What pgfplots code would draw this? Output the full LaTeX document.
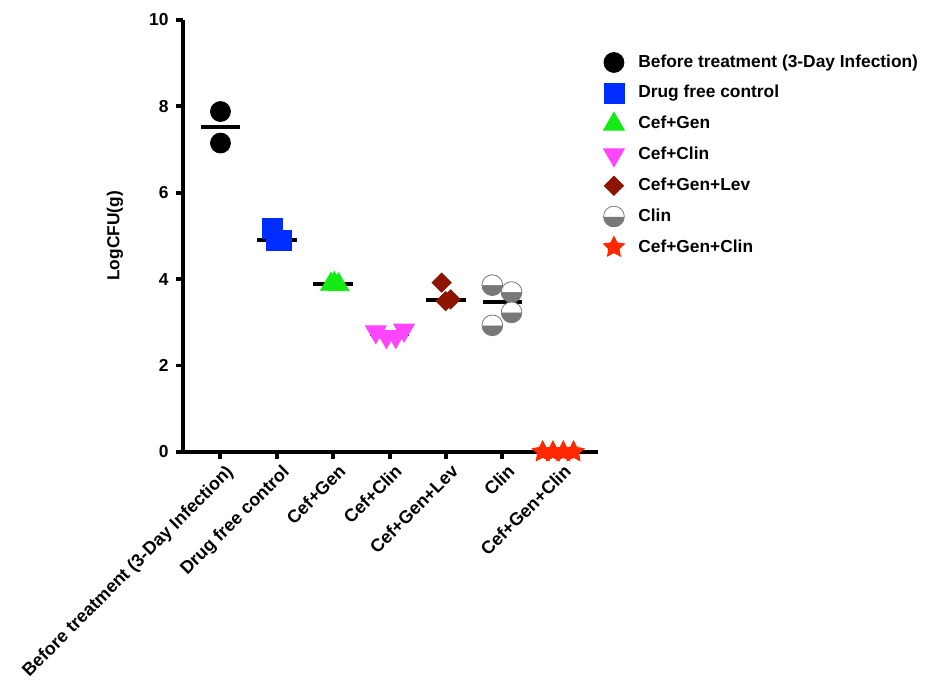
\documentclass[border=0pt]{standalone}
\usepackage{pgfplots}
\pgfplotsset{compat=1.18}
\usepackage{fontspec}
\setmainfont{Liberation Sans}
\definecolor{cblue}{RGB}{0,45,255}
\definecolor{cgreen}{RGB}{20,235,20}
\definecolor{cpink}{RGB}{255,70,255}
\definecolor{cdred}{RGB}{140,20,0}
\definecolor{cgray}{RGB}{120,120,120}
\definecolor{cred}{RGB}{255,40,0}
\pgfdeclareplotmark{fstar}{%
 \pgfpathmoveto{\pgfpointpolar{90}{\pgfplotmarksize}}%
 \pgfpathlineto{\pgfpointpolar{126}{0.5*\pgfplotmarksize}}%
 \pgfpathlineto{\pgfpointpolar{162}{\pgfplotmarksize}}%
 \pgfpathlineto{\pgfpointpolar{198}{0.5*\pgfplotmarksize}}%
 \pgfpathlineto{\pgfpointpolar{234}{\pgfplotmarksize}}%
 \pgfpathlineto{\pgfpointpolar{270}{0.5*\pgfplotmarksize}}%
 \pgfpathlineto{\pgfpointpolar{306}{\pgfplotmarksize}}%
 \pgfpathlineto{\pgfpointpolar{342}{0.5*\pgfplotmarksize}}%
 \pgfpathlineto{\pgfpointpolar{18}{\pgfplotmarksize}}%
 \pgfpathlineto{\pgfpointpolar{54}{0.5*\pgfplotmarksize}}%
 \pgfpathclose\pgfusepathqfillstroke}
\newcommand{\ff}{\bfseries\fontsize{8.7}{10}\selectfont}
\newcommand{\fx}{\bfseries\fontsize{9}{10}\selectfont}
\newcommand{\lgap}{\hspace*{5pt}}
\begin{document}
\begin{tikzpicture}
\begin{axis}[name=ax,
  scale only axis, width=208pt, height=216.5pt,
  xmin=-0.673, xmax=6.69, ymin=0, ymax=10,
  axis x line=bottom, axis y line=left,
  axis line style={line width=2pt,-},
  every outer x axis line/.append style={-},
  every outer y axis line/.append style={-},
  tick style={line width=2pt, black},
  major tick length=3.5pt, tick align=outside,
  ytick={0,2,...,10},
  xtick={0,...,6},
  xticklabels={Before treatment (3-Day Infection),Drug free control,Cef+Gen,Cef+Clin,Cef+Gen+Lev,Clin,Cef+Gen+Clin},
  xticklabel style={rotate=45, anchor=north east, inner sep=1pt, yshift=-2pt, xshift=1pt, font=\fx},
  yticklabel style={font=\ff},
  /pgf/number format/assume math mode=true,
  ylabel={LogCFU(g)},
  ylabel style={font=\ff, at={(axis description cs:-0.163,0.5)}, anchor=center},
  clip=false,
  legend cell align=left,
  legend style={draw=none, fill=none, font=\ff, at={(axis description cs:0.999,0.939)}, anchor=north west, row sep=3.6pt},
]
% median lines
\addplot[black, line width=2pt, forget plot] coordinates {(-0.35,7.515) (0.35,7.515)};
\addplot[black, line width=2pt, forget plot] coordinates {(0.65,4.91) (1.35,4.91)};
\addplot[black, line width=2pt, forget plot] coordinates {(1.65,3.89) (2.35,3.89)};
\addplot[black, line width=2pt, forget plot] coordinates {(2.65,2.72) (3.35,2.72)};
\addplot[black, line width=2pt, forget plot] coordinates {(3.65,3.52) (4.35,3.52)};
\addplot[black, line width=2pt, forget plot] coordinates {(4.65,3.465) (5.35,3.465)};
\addplot[black, line width=2pt, forget plot] coordinates {(5.65,0) (6.35,0)};
% data
\addplot[only marks, mark=*, mark size=5pt, draw=black, fill=black] coordinates {(0,7.88) (0,7.15)};
\addlegendentry{\lgap Before treatment (3-Day Infection)}
\addplot[only marks, mark=square*, mark size=5pt, draw=cblue, fill=cblue] coordinates {(0.917,5.18) (1.0,4.90) (1.074,4.90)};
\addlegendentry{\lgap Drug free control}
\addplot[only marks, mark=triangle*, mark size=6pt, draw=cgreen, fill=cgreen] coordinates {(1.96,3.88) (2.02,3.90) (2.095,3.87)};
\addlegendentry{\lgap Cef+Gen}
\addplot[only marks, mark=triangle*, mark size=6pt, mark options={rotate=180}, draw=cpink, fill=cpink] coordinates {(2.756,2.78) (3.257,2.82) (2.943,2.67) (3.11,2.67)};
\addlegendentry{\lgap Cef+Clin}
\addplot[only marks, mark=square*, mark size=3.4pt, mark options={rotate=45}, draw=cdred, fill=cdred] coordinates {(3.924,3.92) (3.995,3.49) (4.083,3.53)};
\addlegendentry{\lgap Cef+Gen+Lev}
\addplot[only marks, mark=halfcircle*, mark size=5.2pt, mark options={rotate=180}, draw=cgray, fill=cgray] coordinates {(4.823,3.86) (5.165,3.70) (5.165,3.23) (4.823,2.93)};
\addlegendentry{\lgap Clin}
\addplot[only marks, mark=fstar, mark size=5.5pt, draw=cred, fill=cred] coordinates {(5.717,0) (5.899,0) (6.083,0) (6.265,0)};
\addlegendentry{\lgap Cef+Gen+Clin}
\end{axis}
\path ([shift={(-91.5pt,-113pt)}]ax.south west) rectangle ([shift={(372.5pt,226.5pt)}]ax.south west);
\end{tikzpicture}
\end{document}
